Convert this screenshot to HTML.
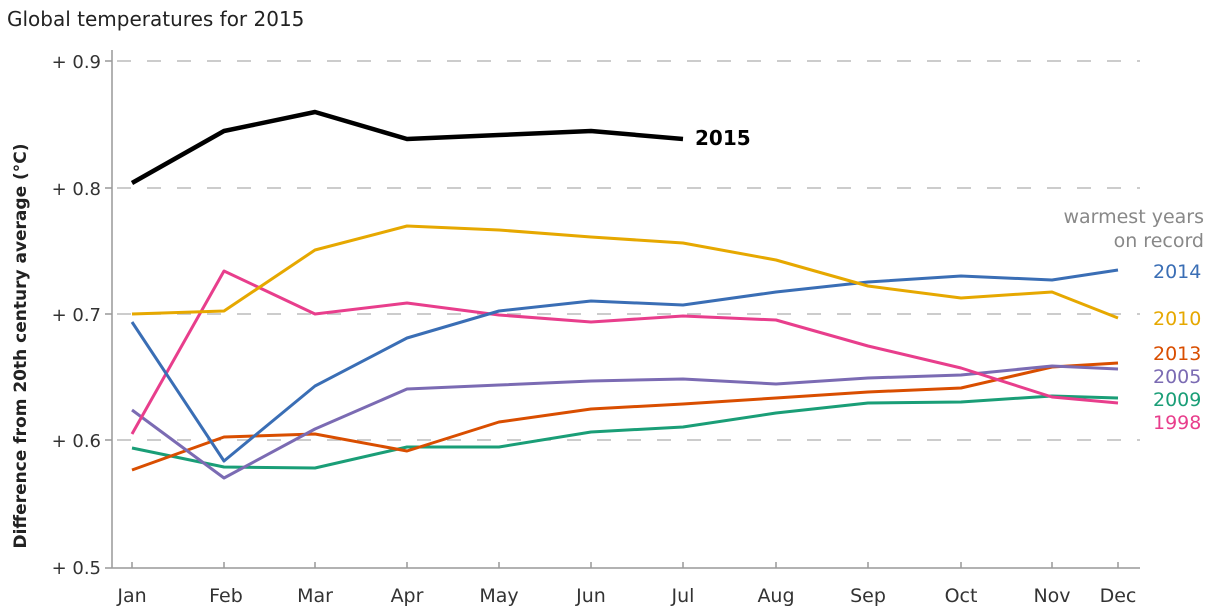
<!DOCTYPE html><html><head><meta charset="utf-8"><style>body{margin:0;background:#fff}svg{display:block}text{font-family:"DejaVu Sans","Liberation Sans",sans-serif}</style></head><body>
<svg width="1220" height="610" viewBox="0 0 1220 610">
<text x="7" y="26" font-size="20" fill="#222">Global temperatures for 2015</text>
<text transform="translate(26,346) rotate(-90)" text-anchor="middle" font-size="17" font-weight="bold" fill="#222">Difference from 20th century average (°C)</text>
<g stroke="#bbb" stroke-width="1.5" stroke-dasharray="14,16">
<line x1="117" y1="61" x2="1140" y2="61"/><line x1="117" y1="188" x2="1140" y2="188"/><line x1="117" y1="314" x2="1140" y2="314"/><line x1="117" y1="440" x2="1140" y2="440"/></g>
<g stroke="#999" stroke-width="1.5"><line x1="112" y1="50" x2="112" y2="568"/><line x1="105" y1="568" x2="1140" y2="568"/>
<line x1="105" y1="61" x2="112" y2="61"/><line x1="105" y1="188" x2="112" y2="188"/><line x1="105" y1="314" x2="112" y2="314"/><line x1="105" y1="440" x2="112" y2="440"/>
<path d="M132 562V568M224 562V568M315 562V568M407 562V568M499 562V568M591 562V568M683 562V568M776 562V568M868 562V568M961 562V568M1052 562V568M1118 562V568"/></g>
<g font-size="18" fill="#333" text-anchor="end"><text x="101" y="68">+ 0.9</text><text x="101" y="195">+ 0.8</text><text x="101" y="321">+ 0.7</text><text x="101" y="447">+ 0.6</text><text x="101" y="574">+ 0.5</text></g>
<g font-size="19" fill="#333" text-anchor="middle"><text x="132" y="602">Jan</text><text x="226" y="602">Feb</text><text x="315" y="602">Mar</text><text x="407" y="602">Apr</text><text x="499" y="602">May</text><text x="591" y="602">Jun</text><text x="683" y="602">Jul</text><text x="776" y="602">Aug</text><text x="868" y="602">Sep</text><text x="961" y="602">Oct</text><text x="1052" y="602">Nov</text><text x="1118" y="602">Dec</text></g>
<g fill="none" stroke-width="3" stroke-linejoin="round">
<polyline stroke="#1a9e77" points="132,448 224,467 315,468 407,447 499,447 591,432 683,427 776,413 868,403 961,402 1052,396 1118,398"/>
<polyline stroke="#d94e00" points="132,470 224,437 315,434 407,451 499,422 591,409 683,404 776,398 868,392 961,388 1052,367 1118,363"/>
<polyline stroke="#7b6bb3" points="132,410 224,478 315,429 407,389 499,385 591,381 683,379 776,384 868,378 961,375 1052,366 1118,369"/>
<polyline stroke="#e83e8c" points="132,434 224,271 315,314 407,303 499,315 591,322 683,316 776,320 868,346 961,368 1052,397 1118,403"/>
<polyline stroke="#3a6eb5" points="132,322 224,461 315,386 407,338 499,311 591,301 683,305 776,292 868,282 961,276 1052,280 1118,270"/>
<polyline stroke="#e6a800" points="132,314 224,311 315,250 407,226 499,230 591,237 683,243 776,260 868,286 961,298 1052,292 1118,318"/>
<polyline stroke="#000" stroke-width="4.5" points="132,183 224,131 315,112 407,139 499,135 591,131 683,139"/></g>
<text x="695" y="145" font-size="20" font-weight="bold" fill="#000">2015</text>
<g font-size="19" text-anchor="end" fill="#888"><text x="1204" y="223">warmest years</text><text x="1204" y="247">on record</text></g>
<g font-size="19"><text x="1153" y="278" fill="#3a6eb5">2014</text><text x="1153" y="325" fill="#e6a800">2010</text><text x="1153" y="360" fill="#d94e00">2013</text><text x="1153" y="383" fill="#7b6bb3">2005</text><text x="1153" y="406" fill="#1a9e77">2009</text><text x="1153" y="429" fill="#e83e8c">1998</text></g>
</svg></body></html>
